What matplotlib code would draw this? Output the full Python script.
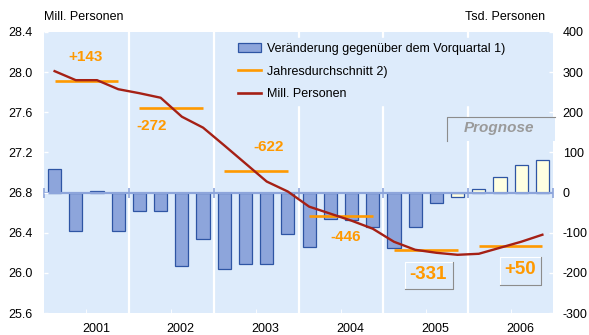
import matplotlib
matplotlib.use("Agg")
import matplotlib.pyplot as plt
from matplotlib.patches import Patch, Rectangle
from matplotlib.lines import Line2D

plt.rcParams['font.family'] = ['Liberation Sans', 'DejaVu Sans']

# quarterly change vs. previous quarter, Tsd. Personen (2001 Q1 .. 2006 Q4)
change_tsd = [58, -96, 4, -95,
              -45, -45, -184, -116,
              -191, -178, -178, -104,
              -135, -66, -69, -86,
              -139, -86, -27, -11,
              9, 40, 68, 81]
# employed persons, Mill. Personen
persons_mill = [28.01, 27.92, 27.92, 27.83,
                27.79, 27.745, 27.556, 27.447,
                27.27, 27.09, 26.91, 26.81,
                26.66, 26.59, 26.52, 26.44,
                26.31, 26.23, 26.20, 26.18,
                26.19, 26.25, 26.31, 26.38]
years = ['2001', '2002', '2003', '2004', '2005', '2006']
annual_avg = [27.915, 27.64, 27.01, 26.57, 26.23, 26.27]
annual_change = ['+143', '-272', '-622', '-446', '-331', '+50']
forecast_from = 19   # first forecast quarter (2005 Q4)

BG = '#DDEBFB'
BAR_FC = '#8DA5DB'
BAR_EC = '#2E55A4'
FC_FC = '#FFFFE1'
ORANGE = '#FF9900'
RED = '#A52015'

fig = plt.figure(figsize=(5.89, 3.35), dpi=100)
ax = fig.add_axes([44 / 589, 1 - 313 / 335, 509 / 589, 281 / 335])
ax.set_facecolor(BG)
ax2 = ax.twinx()

n = len(change_tsd)
xs = list(range(n))

# bars on the Tsd. axis (right)
colors = [BAR_FC if i < forecast_from else FC_FC for i in xs]
ax.bar(xs, change_tsd, width=0.62, color=colors, edgecolor=BAR_EC,
       linewidth=0.9, zorder=2)
ax.set_ylim(-300, 400)
ax.set_xlim(-0.5, n - 0.5)

# year separators
seps = [4 * k - 0.5 for k in range(1, len(years))]
for s in seps:
    ax.axvline(s, color='white', lw=1.6, zorder=1)

# zero line with little marks at the year borders
ax.axhline(0, color=BAR_FC, lw=1.6, zorder=3)
ax.plot([-0.5] + seps + [n - 0.5], [0] * (len(seps) + 2), ls='none',
        marker='|', ms=7, mew=1.2, color=BAR_FC, zorder=3, clip_on=False)

ax.yaxis.tick_right()
ax.set_yticks(range(-300, 401, 100))
ax.set_yticklabels([str(v) for v in range(-300, 401, 100)])
ax.tick_params(axis='y', direction='in', length=3, width=1, color='white',
               pad=7, labelsize=9)

# x axis: white marks at year centres, labels a bit to the right
centres = [4 * k + 1.5 for k in range(len(years))]
ax.set_xticks(centres, minor=True)
ax.set_xticks([c + 0.45 for c in centres])
ax.set_xticklabels(years)
ax.tick_params(axis='x', which='major', length=0, pad=7, labelsize=9)
ax.tick_params(axis='x', which='minor', direction='in', length=3,
               color='white')

# level line and annual averages on the Mill. axis (left)
ax2.set_ylim(25.6, 28.4)
ax2.yaxis.tick_left()
ax2.set_yticks([25.6, 26.0, 26.4, 26.8, 27.2, 27.6, 28.0, 28.4])
ax2.set_yticklabels(['25.6', '26.0', '26.4', '26.8', '27.2', '27.6',
                     '28.0', '28.4'])
ax2.tick_params(axis='y', direction='in', length=3, width=1, color='white',
                pad=8, labelsize=9)

for k, avg in enumerate(annual_avg):
    ax2.plot([4 * k, 4 * k + 3], [avg, avg], color=ORANGE, lw=1.9, zorder=2,
             solid_capstyle='butt')
ax2.plot(xs, persons_mill, color=RED, lw=1.7, zorder=3)

for a in (ax, ax2):
    for sp in a.spines.values():
        sp.set_visible(False)

# annual change labels
label_pos = [(1.47, 28.15), (4.58, 27.46), (10.11, 27.25),
             (13.73, 26.36), (17.59, 25.98), (21.93, 26.03)]
label_size = [11, 11, 11, 11, 13.5, 13.5]
for txt, (x, y), fs in zip(annual_change, label_pos, label_size):
    ax2.text(x, y, txt, color=ORANGE, fontsize=fs, fontweight='bold',
             ha='center', va='center', zorder=5)


def sunken_frame(a, xc, yc, w, h):
    x0, x1 = xc - w / 2, xc + w / 2
    y0, y1 = yc - h / 2, yc + h / 2
    a.plot([x0, x0, x1], [y0, y1, y1], color='white', lw=0.8, zorder=4)
    a.plot([x0, x1, x1], [y0, y0, y1], color='#8C8C8C', lw=0.8, zorder=4)


sunken_frame(ax2, 17.66, 25.975, 2.26, 0.27)
sunken_frame(ax2, 21.96, 26.02, 1.96, 0.275)

# forecast box
ax2.add_patch(Rectangle((18.51, 27.314), 5.09, 0.239, facecolor=BG,
                        edgecolor='none', zorder=4, clip_on=False))
ax2.plot([18.51, 18.51, 23.6], [27.314, 27.553, 27.553], color='#8C8C8C',
         lw=0.8, zorder=4, clip_on=False)
ax2.text(20.96, 27.44, 'Prognose', color='#9A9A9A', fontsize=11,
         fontweight='bold', fontstyle='italic', ha='center', va='center',
         zorder=5)

# axis titles
fig.text(44 / 589, 1 - 17 / 335, 'Mill. Personen', fontsize=9,
         ha='left', va='center')
fig.text(545 / 589, 1 - 17 / 335, 'Tsd. Personen', fontsize=9,
         ha='right', va='center')

handles = [Patch(facecolor=BAR_FC, edgecolor=BAR_EC, linewidth=0.9),
           Line2D([], [], color=ORANGE, lw=1.9),
           Line2D([], [], color=RED, lw=1.9)]
labels = ['Veränderung gegenüber dem Vorquartal 1)',
          'Jahresdurchschnitt 2)', 'Mill. Personen']
leg = fig.legend(handles, labels, loc='upper left',
                 bbox_to_anchor=(233 / 589, 1 - 38 / 335), borderaxespad=0,
                 fontsize=9, frameon=True, facecolor=BG, edgecolor=BG,
                 fancybox=False, framealpha=1, handlelength=1.85,
                 handletextpad=0.5, labelspacing=0.85, borderpad=0.4)

fig.savefig('out.png', dpi=100)
